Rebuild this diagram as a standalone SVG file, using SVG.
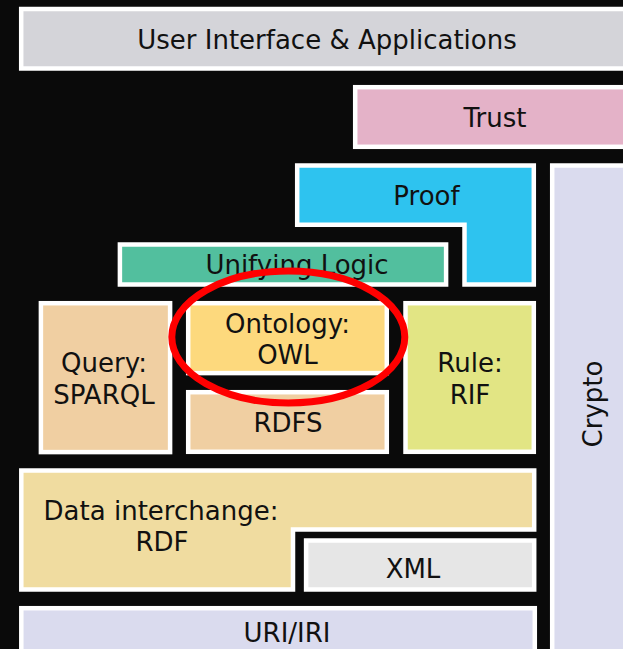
<svg xmlns="http://www.w3.org/2000/svg" width="623" height="649" viewBox="0 0 623 649">
<style>
.box{stroke:#ffffff;stroke-width:4.5}
.t{font-family:"DejaVu Sans","Verdana",sans-serif;font-size:26px;fill:#111111;text-anchor:middle}
</style>
<rect x="0" y="0" width="623" height="649" fill="#0a0a0a"/>
<g id="ui"><rect class="box" x="21.2" y="9" width="610" height="59.5" fill="#d4d4d9"/><text class="t" x="327" y="49">User Interface &amp; Applications</text></g>
<g id="trust"><rect class="box" x="355.2" y="87.2" width="280" height="59.6" fill="#e4b2c8"/><text class="t" x="495" y="127">Trust</text></g>
<g id="proof"><path class="box" d="M297.2,165.5 H533.8 V284.5 H464.5 V224.8 H297.2 Z" fill="#2ec3ef"/><text class="t" x="426.5" y="205">Proof</text></g>
<g id="crypto"><rect class="box" x="552.2" y="165.5" width="100" height="500" fill="#dadbee"/><text class="t" transform="translate(602,404) rotate(-90)" x="0" y="0">Crypto</text></g>
<g id="logic"><rect class="box" x="119.9" y="244.5" width="326.2" height="40" fill="#52bf9e"/><text class="t" x="297" y="274">Unifying Logic</text></g>
<g id="query"><rect class="box" x="40.9" y="303.2" width="129.2" height="148.9" fill="#f0cfa2"/><text class="t" x="104" y="372">Query:</text><text class="t" x="104" y="404">SPARQL</text></g>
<g id="ontology"><rect class="box" x="188.2" y="303.2" width="198.6" height="69.9" fill="#fdd97d"/><text class="t" x="287.5" y="333">Ontology:</text><text class="t" x="287.5" y="364">OWL</text></g>
<g id="rdfs"><rect class="box" x="188.2" y="392.2" width="198.6" height="59.6" fill="#f0cfa2"/><text class="t" x="288" y="432">RDFS</text></g>
<g id="rule"><rect class="box" x="405.5" y="303.2" width="128.3" height="148.6" fill="#e2e584"/><text class="t" x="470" y="372">Rule:</text><text class="t" x="470" y="404">RIF</text></g>
<g id="rdf"><path class="box" d="M21.3,470.5 H534.2 V529.5 H293 V589.5 H21.3 Z" fill="#f0dca0"/><text class="t" x="161" y="520">Data interchange:</text><text class="t" x="162" y="551">RDF</text></g>
<g id="xml"><rect class="box" x="306.1" y="540.5" width="228.1" height="49" fill="#e6e6e6"/><text class="t" x="413" y="578">XML</text></g>
<g id="uri"><rect class="box" x="21.3" y="608.2" width="513.5" height="60" fill="#dadbee"/><text class="t" x="287" y="642">URI/IRI</text></g>
<g id="connectors"></g>
<ellipse id="highlight" cx="288.3" cy="337" rx="116.5" ry="66" fill="none" stroke="#ff0000" stroke-width="7"/>
</svg>
